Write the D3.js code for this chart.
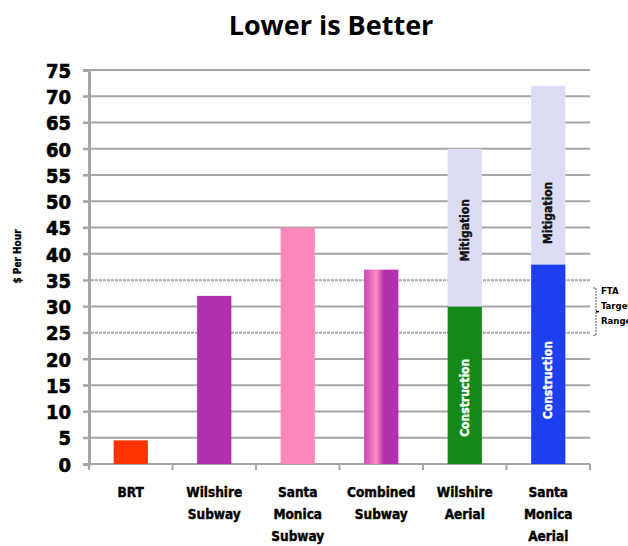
<!DOCTYPE html>
<html>
<head>
<meta charset="utf-8">
<script src="https://cdn.jsdelivr.net/npm/d3@7"></script>
<style>
  html, body { margin: 0; padding: 0; background: #fff; }
  svg { display: block; font-family: "Liberation Sans", Arial, sans-serif; }
  .heavy { font-family: "DejaVu Sans Condensed", "DejaVu Sans", sans-serif; font-weight: 700; font-stretch: condensed; }
</style>
</head>
<body>
<svg id="chart" width="628" height="546"></svg>
<script>
// Cost per hour by alternative
const categories = [
  ["BRT"],
  ["Wilshire", "Subway"],
  ["Santa", "Monica", "Subway"],
  ["Combined", "Subway"],
  ["Wilshire", "Aerial"],
  ["Santa", "Monica", "Aerial"]
];
const baseValues = [4.5, 32, 45, 37, 30, 38];        // single bars / construction segment
const mitigationValues = [0, 0, 0, 0, 30, 34];       // stacked mitigation segment
const barFills = ["#ff3300", "#b22fae", "#fe88bc", "url(#combinedGrad)", "#15881a", "#1e3ff0"];
const mitigationFill = "#dcdcf4";
const yTicks = d3.range(0, 80, 5);
const targetRange = [25, 35];

const svg = d3.select("#chart");
const margin = { left: 89, right: 38, top: 70, bottom: 82 };
const W = 628, H = 546;

const x = d3.scaleBand()
  .domain(d3.range(categories.length))
  .range([margin.left, W - margin.right])
  .paddingInner(0.59)
  .paddingOuter(0.295);

const y = d3.scaleLinear().domain([0, 75]).range([H - margin.bottom, margin.top]);

// gradient for the combined subway bar
const defs = svg.append("defs");
const g = defs.append("linearGradient").attr("id", "combinedGrad")
  .attr("x1", "0%").attr("x2", "100%").attr("y1", "0%").attr("y2", "0%");
g.append("stop").attr("offset", "0%").attr("stop-color", "#c845b4");
g.append("stop").attr("offset", "35%").attr("stop-color", "#fe8cc4");
g.append("stop").attr("offset", "58%").attr("stop-color", "#b22fae");
g.append("stop").attr("offset", "100%").attr("stop-color", "#b22fae");

// title
svg.append("text")
  .attr("x", 331).attr("y", 35)
  .attr("text-anchor", "middle")
  .style("font-family", "'Open Sans', Lato, sans-serif")
  .style("font-weight", 700)
  .style("font-size", "27px")
  .text("Lower is Better");

// horizontal grid lines with small left ticks
svg.append("g").selectAll("line")
  .data(yTicks.filter(d => d > 0))
  .join("line")
  .attr("x1", margin.left - 6)
  .attr("x2", W - margin.right)
  .attr("y1", d => y(d)).attr("y2", d => y(d))
  .attr("stroke", d => targetRange.includes(d) ? "#a8a8a8" : "#a6a6a6")
  .attr("stroke-width", 2)
  .attr("stroke-dasharray", d => targetRange.includes(d) ? "3,1" : null);

// y axis
const yAxis = d3.axisLeft(y).tickValues(yTicks).tickSize(6).tickPadding(12);
const ya = svg.append("g").attr("transform", `translate(${margin.left},0)`).call(yAxis);
ya.select(".domain").attr("stroke", "#a6a6a6").attr("stroke-width", 3);
ya.selectAll(".tick line").attr("stroke", "#a6a6a6").attr("stroke-width", 2);
ya.selectAll(".tick text")
  .attr("class", "heavy")
  .style("font-size", "20px")
  .attr("fill", "#000")
  .attr("stroke", "#000")
  .attr("stroke-width", 0.6)
  .attr("dy", "0.36em");

// x axis baseline and category boundary ticks
svg.append("line")
  .attr("x1", margin.left - 6).attr("x2", W - margin.right)
  .attr("y1", y(0)).attr("y2", y(0))
  .attr("stroke", "#a6a6a6").attr("stroke-width", 2);
const step = x.step();
svg.append("g").selectAll("line")
  .data(d3.range(categories.length + 1))
  .join("line")
  .attr("x1", i => margin.left + i * step)
  .attr("x2", i => margin.left + i * step)
  .attr("y1", y(0)).attr("y2", y(0) + 6)
  .attr("stroke", "#a6a6a6").attr("stroke-width", 2);

// bars
const bars = svg.append("g");
bars.selectAll("rect.base")
  .data(baseValues)
  .join("rect")
  .attr("class", "base")
  .attr("x", (d, i) => x(i))
  .attr("width", x.bandwidth())
  .attr("y", d => y(d))
  .attr("height", d => y(0) - y(d))
  .attr("fill", (d, i) => barFills[i]);

bars.selectAll("rect.mit")
  .data(mitigationValues.map((m, i) => ({ i, lo: baseValues[i], hi: baseValues[i] + m })).filter(d => d.hi > d.lo))
  .join("rect")
  .attr("class", "mit")
  .attr("x", d => x(d.i))
  .attr("width", x.bandwidth())
  .attr("y", d => y(d.hi))
  .attr("height", d => y(d.lo) - y(d.hi))
  .attr("fill", mitigationFill);

// segment labels inside the stacked bars; mitigation labels sit around the $45 level
const segLabels = [];
mitigationValues.forEach((m, i) => {
  if (m > 0) {
    segLabels.push({ i, text: "Construction", mid: baseValues[i] * 0.42, color: "#fff" });
    segLabels.push({ i, text: "Mitigation", mid: Math.max(44.5, baseValues[i] + 9.8), color: "#111" });
  }
});
svg.append("g").selectAll("text")
  .data(segLabels)
  .join("text")
  .attr("transform", d => `translate(${x(d.i) + x.bandwidth() / 2 + 4},${y(d.mid)}) rotate(-90)`)
  .attr("text-anchor", "middle")
  .attr("class", "heavy")
  .style("font-size", "12px")
  .attr("fill", d => d.color)
  .attr("stroke", d => d.color)
  .attr("stroke-width", 0.4)
  .text(d => d.text);

// category labels
const xl = svg.append("g");
categories.forEach((lines, i) => {
  const t = xl.append("text")
    .attr("x", x(i) + x.bandwidth() / 2)
    .attr("y", 497)
    .attr("text-anchor", "middle")
    .attr("class", "heavy")
    .style("font-size", "13.5px")
    .attr("fill", "#000")
    .attr("stroke", "#000")
    .attr("stroke-width", 0.4);
  lines.forEach((ln, k) => {
    t.append("tspan").attr("x", x(i) + x.bandwidth() / 2).attr("dy", k === 0 ? 0 : 22).text(ln);
  });
});

// y axis title
svg.append("text")
  .attr("transform", `translate(21,${y(39.5)}) rotate(-90)`)
  .attr("text-anchor", "middle")
  .attr("class", "heavy")
  .style("font-size", "10px")
  .attr("stroke", "#000")
  .attr("stroke-width", 0.3)
  .text("$ Per Hour");

// FTA target range bracket
const bx = W - margin.right + 6;
const bTop = y(33.5), bBot = y(24.5), bMid = (bTop + bBot) / 2;
const br = svg.append("g").attr("stroke", "#555").attr("stroke-width", 1).attr("fill", "none");
br.append("path")
  .attr("d", `M${bx - 3},${bTop} H${bx} V${bBot} H${bx - 3}`)
  .attr("stroke-dasharray", "2,1");
br.append("line").attr("x1", bx).attr("x2", bx + 3).attr("y1", bMid).attr("y2", bMid).attr("stroke", "#000").attr("stroke-width", 1.5);
const ft = svg.append("text")
  .attr("x", bx + 5).attr("y", bTop + 6)
  .attr("class", "heavy")
  .style("font-size", "9.5px");
["FTA", "Target", "Range"].forEach((s, k) => {
  ft.append("tspan").attr("x", bx + 5).attr("dy", k === 0 ? 0 : 15).text(s);
});
</script>
</body>
</html>
